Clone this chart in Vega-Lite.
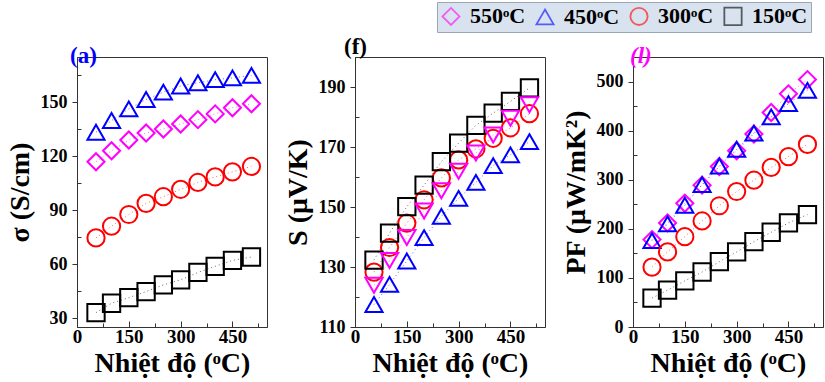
{
  "$schema": "https://vega.github.io/schema/vega-lite/v6.json",
  "background": "white",
  "padding": {"left": 5, "top": 1, "right": 0, "bottom": 0},
  "config": {
    "font": "Liberation Serif, Times New Roman, serif",
    "view": {"stroke": "#333333", "strokeWidth": 1},
    "title": {"font": "Liberation Serif, Times New Roman, serif", "frame": "group"},
    "axis": {
      "grid": false,
      "labelFont": "Liberation Serif, Times New Roman, serif",
      "labelFontWeight": "bold",
      "labelColor": "black",
      "labelFlush": false,
      "labelOverlap": false,
      "titleFont": "Liberation Serif, Times New Roman, serif",
      "titleFontWeight": "bold",
      "titleFontSize": 28,
      "titleColor": "black",
      "domainColor": "#333333",
      "tickColor": "#333333"
    },
    "axisX": {"labelPadding": 6, "titlePadding": 1, "labelFontSize": 19},
    "axisY": {"labelPadding": 5, "titlePadding": 6, "labelFontSize": 18},
    "legend": {
      "fillColor": "#d9e3ef",
      "strokeColor": "#9aa6b4",
      "padding": 3,
      "symbolSize": 100,
      "symbolStrokeWidth": 1.8,
      "labelFont": "Liberation Serif, Times New Roman, serif",
      "labelFontWeight": "bold",
      "labelFontSize": 22,
      "labelColor": "black",
      "labelOffset": 8,
      "columnPadding": 6
    }
  },
  "data": {
    "values": [
      {"T": 55, "series": "550ᵒC", "sigma": 116.8, "S": 123.9, "PF": 178},
      {"T": 100, "series": "550ᵒC", "sigma": 122.9, "S": 132.2, "PF": 212},
      {"T": 150, "series": "550ᵒC", "sigma": 128.9, "S": 139.8, "PF": 252},
      {"T": 200, "series": "550ᵒC", "sigma": 132.8, "S": 148.7, "PF": 289},
      {"T": 250, "series": "550ᵒC", "sigma": 135.0, "S": 155.4, "PF": 327},
      {"T": 300, "series": "550ᵒC", "sigma": 137.8, "S": 161.9, "PF": 359},
      {"T": 350, "series": "550ᵒC", "sigma": 140.2, "S": 168.0, "PF": 393},
      {"T": 400, "series": "550ᵒC", "sigma": 143.4, "S": 174.0, "PF": 437},
      {"T": 450, "series": "550ᵒC", "sigma": 146.8, "S": 179.6, "PF": 475},
      {"T": 505, "series": "550ᵒC", "sigma": 149.0, "S": 184.1, "PF": 504},
      {"T": 55, "series": "450ᵒC", "sigma": 133.2, "S": 117.5, "PF": 176},
      {"T": 100, "series": "450ᵒC", "sigma": 139.7, "S": 124.2, "PF": 210},
      {"T": 150, "series": "450ᵒC", "sigma": 146.2, "S": 132.0, "PF": 248},
      {"T": 200, "series": "450ᵒC", "sigma": 151.4, "S": 139.8, "PF": 290},
      {"T": 250, "series": "450ᵒC", "sigma": 155.5, "S": 146.9, "PF": 328},
      {"T": 300, "series": "450ᵒC", "sigma": 158.9, "S": 152.9, "PF": 362},
      {"T": 350, "series": "450ᵒC", "sigma": 160.7, "S": 158.2, "PF": 395},
      {"T": 400, "series": "450ᵒC", "sigma": 162.4, "S": 163.8, "PF": 428},
      {"T": 450, "series": "450ᵒC", "sigma": 163.4, "S": 167.4, "PF": 455},
      {"T": 505, "series": "450ᵒC", "sigma": 164.8, "S": 171.8, "PF": 482},
      {"T": 55, "series": "300ᵒC", "sigma": 74.5, "S": 128.3, "PF": 122},
      {"T": 100, "series": "300ᵒC", "sigma": 81.0, "S": 136.5, "PF": 153},
      {"T": 150, "series": "300ᵒC", "sigma": 87.5, "S": 144.6, "PF": 184},
      {"T": 200, "series": "300ᵒC", "sigma": 93.7, "S": 152.4, "PF": 216},
      {"T": 250, "series": "300ᵒC", "sigma": 97.4, "S": 159.7, "PF": 247},
      {"T": 300, "series": "300ᵒC", "sigma": 101.5, "S": 165.7, "PF": 276},
      {"T": 350, "series": "300ᵒC", "sigma": 105.3, "S": 169.4, "PF": 299},
      {"T": 400, "series": "300ᵒC", "sigma": 108.4, "S": 172.9, "PF": 325},
      {"T": 450, "series": "300ᵒC", "sigma": 111.2, "S": 176.4, "PF": 347},
      {"T": 505, "series": "300ᵒC", "sigma": 114.2, "S": 181.1, "PF": 372},
      {"T": 55, "series": "150ᵒC", "sigma": 33.0, "S": 132.3, "PF": 59},
      {"T": 100, "series": "150ᵒC", "sigma": 38.2, "S": 141.3, "PF": 75},
      {"T": 150, "series": "150ᵒC", "sigma": 41.3, "S": 150.1, "PF": 94},
      {"T": 200, "series": "150ᵒC", "sigma": 44.7, "S": 157.3, "PF": 112},
      {"T": 250, "series": "150ᵒC", "sigma": 48.4, "S": 165.1, "PF": 133},
      {"T": 300, "series": "150ᵒC", "sigma": 51.2, "S": 171.3, "PF": 153},
      {"T": 350, "series": "150ᵒC", "sigma": 55.3, "S": 177.2, "PF": 174},
      {"T": 400, "series": "150ᵒC", "sigma": 58.7, "S": 181.3, "PF": 193},
      {"T": 450, "series": "150ᵒC", "sigma": 62.0, "S": 185.2, "PF": 212},
      {"T": 505, "series": "150ᵒC", "sigma": 63.9, "S": 189.7, "PF": 229}
    ]
  },
  "bounds": "flush",
  "spacing": 88,
  "resolve": {"scale": {"y": "independent"}},
  "hconcat": [
    {
      "width": 190,
      "height": 270,
      "title": {"text": "(a)", "color": "#0000ff", "fontSize": 23, "fontWeight": "bold", "anchor": "start", "dx": -7, "offset": -11},
      "encoding": {
        "x": {"field": "T", "type": "quantitative", "scale": {"domain": [0, 550]},
          "axis": {"title": "Nhiệt độ (ᵒC)", "values": [0, 75, 150, 225, 300, 375, 450, 525],
            "labelExpr": "datum.value % 150 === 0 ? datum.label : ''",
            "tickSize": {"condition": {"test": "datum.value % 150 === 0", "value": -6}, "value": -4}}},
        "y": {"field": "sigma", "type": "quantitative", "scale": {"domain": [25, 175]},
          "axis": {"title": "σ (S/cm)", "values": [30, 45, 60, 75, 90, 105, 120, 135, 150, 165],
            "labelExpr": "datum.value % 30 === 0 ? datum.label : ''",
            "tickSize": {"condition": {"test": "datum.value % 30 === 0", "value": 5}, "value": -4}}},
        "color": {"field": "series", "type": "nominal",
          "scale": {"domain": ["550ᵒC", "450ᵒC", "300ᵒC", "150ᵒC"], "range": ["#ff00ff", "#0000ff", "#ff0000", "#000000"]},
          "legend": {"title": null, "orient": "none", "legendX": 360, "legendY": -55, "direction": "horizontal", "columns": 4}}
      },
      "layer": [
        {"mark": {"type": "line", "strokeDash": [1, 3], "strokeWidth": 1, "opacity": 0.6}},
        {"mark": {"type": "point", "filled": false, "strokeWidth": 2, "opacity": 1},
          "encoding": {
            "shape": {"field": "series", "type": "nominal",
              "scale": {"domain": ["550ᵒC", "450ᵒC", "300ᵒC", "150ᵒC"], "range": ["diamond", "triangle-up", "circle", "square"]},
              "legend": {"title": null, "orient": "none", "legendX": 360, "legendY": -55, "direction": "horizontal", "columns": 4}},
            "size": {"field": "series", "type": "nominal", "legend": null,
              "scale": {"domain": ["550ᵒC", "450ᵒC", "300ᵒC", "150ᵒC"], "range": [290, 300, 200, 225]}}
          }}
      ]
    },
    {
      "width": 190,
      "height": 270,
      "title": {"text": "(f)", "color": "black", "fontSize": 23, "fontWeight": "bold", "anchor": "start", "dx": -11, "offset": -11},
      "encoding": {
        "x": {"field": "T", "type": "quantitative", "scale": {"domain": [0, 550]},
          "axis": {"title": "Nhiệt độ (ᵒC)", "values": [0, 75, 150, 225, 300, 375, 450, 525],
            "labelExpr": "datum.value % 150 === 0 ? datum.label : ''",
            "tickSize": {"condition": {"test": "datum.value % 150 === 0", "value": -6}, "value": -4}}},
        "y": {"field": "S", "type": "quantitative", "scale": {"domain": [110, 200]},
          "axis": {"title": "S (μV/K)", "values": [110, 120, 130, 140, 150, 160, 170, 180, 190, 200],
            "labelExpr": "(datum.value - 110) % 20 === 0 && datum.value < 200 ? datum.label : ''",
            "tickSize": {"condition": {"test": "(datum.value - 110) % 20 === 0", "value": 5}, "value": -4}}},
        "color": {"field": "series", "type": "nominal",
          "scale": {"domain": ["550ᵒC", "450ᵒC", "300ᵒC", "150ᵒC"], "range": ["#ff00ff", "#0000ff", "#ff0000", "#000000"]},
          "legend": {"title": null, "orient": "none", "legendX": 360, "legendY": -55, "direction": "horizontal", "columns": 4}}
      },
      "layer": [
        {"mark": {"type": "line", "strokeDash": [1, 3], "strokeWidth": 1, "opacity": 0.6}},
        {"transform": [{"filter": "datum.series !== '550ᵒC'"}],
          "mark": {"type": "point", "filled": false, "strokeWidth": 2, "opacity": 1},
          "encoding": {
            "shape": {"field": "series", "type": "nominal",
              "scale": {"domain": ["550ᵒC", "450ᵒC", "300ᵒC", "150ᵒC"], "range": ["diamond", "triangle-up", "circle", "square"]},
              "legend": {"title": null, "orient": "none", "legendX": 360, "legendY": -55, "direction": "horizontal", "columns": 4}},
            "size": {"field": "series", "type": "nominal", "legend": null,
              "scale": {"domain": ["550ᵒC", "450ᵒC", "300ᵒC", "150ᵒC"], "range": [290, 300, 200, 225]}}
          }},
        {"transform": [{"filter": "datum.series === '550ᵒC'"}],
          "mark": {"type": "point", "shape": "triangle-down", "filled": false, "strokeWidth": 2, "opacity": 1, "size": 300}}
      ]
    },
    {
      "width": 190,
      "height": 270,
      "title": {"text": "(l)", "color": "#ff00ff", "fontSize": 23, "fontWeight": "bold", "fontStyle": "italic", "anchor": "start", "dx": -3, "offset": -11},
      "encoding": {
        "x": {"field": "T", "type": "quantitative", "scale": {"domain": [0, 550]},
          "axis": {"title": "Nhiệt độ (ᵒC)", "values": [0, 75, 150, 225, 300, 375, 450, 525],
            "labelExpr": "datum.value % 150 === 0 ? datum.label : ''",
            "tickSize": {"condition": {"test": "datum.value % 150 === 0", "value": -6}, "value": -4}}},
        "y": {"field": "PF", "type": "quantitative", "scale": {"domain": [0, 550]},
          "axis": {"title": "PF (μW/mK²)", "values": [0, 50, 100, 150, 200, 250, 300, 350, 400, 450, 500],
            "labelExpr": "datum.value % 100 === 0 ? datum.label : ''",
            "tickSize": {"condition": {"test": "datum.value % 100 === 0", "value": 5}, "value": -4}}},
        "color": {"field": "series", "type": "nominal",
          "scale": {"domain": ["550ᵒC", "450ᵒC", "300ᵒC", "150ᵒC"], "range": ["#ff00ff", "#0000ff", "#ff0000", "#000000"]},
          "legend": {"title": null, "orient": "none", "legendX": 360, "legendY": -55, "direction": "horizontal", "columns": 4}}
      },
      "layer": [
        {"mark": {"type": "line", "strokeDash": [1, 3], "strokeWidth": 1, "opacity": 0.6}},
        {"mark": {"type": "point", "filled": false, "strokeWidth": 2, "opacity": 1},
          "encoding": {
            "shape": {"field": "series", "type": "nominal",
              "scale": {"domain": ["550ᵒC", "450ᵒC", "300ᵒC", "150ᵒC"], "range": ["diamond", "triangle-up", "circle", "square"]},
              "legend": {"title": null, "orient": "none", "legendX": 360, "legendY": -55, "direction": "horizontal", "columns": 4}},
            "size": {"field": "series", "type": "nominal", "legend": null,
              "scale": {"domain": ["550ᵒC", "450ᵒC", "300ᵒC", "150ᵒC"], "range": [290, 300, 200, 225]}}
          }}
      ]
    }
  ]
}
